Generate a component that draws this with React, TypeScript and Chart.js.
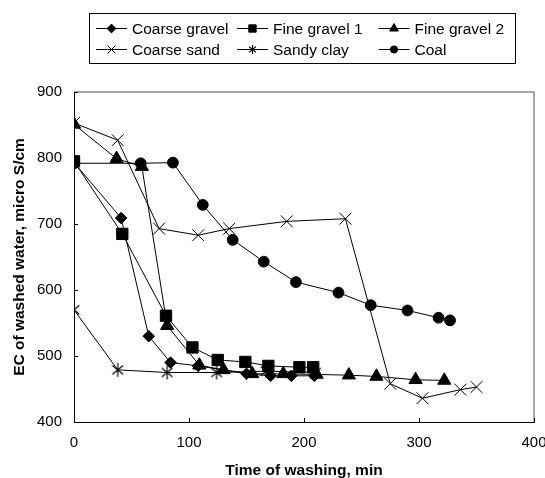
import React, { useEffect, useRef } from 'react';
import { Chart, registerables } from 'chart.js';
import { drawPoint } from 'chart.js/helpers';

Chart.register(...registerables);

// ---- Data ----
const seriesNames = ['Coarse gravel', 'Fine gravel 1', 'Fine gravel 2', 'Coarse sand', 'Sandy clay', 'Coal'];

const coarseGravelX = [0, 41, 65, 84, 108, 150, 171, 189, 209];
const coarseGravelY = [793, 709, 530, 490, 485, 473, 470, 470, 470];

const fineGravel1X = [0, 42, 80, 103, 125, 149, 169, 196, 208];
const fineGravel1Y = [795, 685, 561, 513, 494, 491, 485, 483, 483];

const fineGravel2X = [0, 37, 59, 81, 109, 130, 155, 182, 211, 239, 263, 297, 322];
const fineGravel2Y = [851, 799, 787, 546, 486, 479, 473, 473, 472, 471, 469, 464, 463];

const coarseSandX = [0, 38, 74, 108, 135, 185, 236, 275, 303, 336, 350];
const coarseSandY = [853, 827, 693, 683, 693, 704, 708, 458, 436, 449, 453];

const sandyClayX = [0, 38, 81, 124, 167, 210];
const sandyClayY = [570, 479, 475, 475, 477, 475];

const coalX = [0, 58, 86, 112, 138, 165, 193, 230, 258, 290, 317, 327];
const coalY = [792, 792, 793, 729, 676, 643, 612, 596, 577, 569, 558, 554];

const xTicks = [0, 100, 200, 300, 400];
const yTicks = [400, 500, 600, 700, 800, 900];

const xTitle = 'Time of washing, min';
const yTitle = 'EC of washed water, micro S/cm';

const FONT = "'Liberation Sans', Arial, sans-serif";

function zip(xs: number[], ys: number[]) {
  return xs.map((x, i) => ({ x, y: ys[i] }));
}

function makeAsterisk(r: number): HTMLCanvasElement {
  const c = document.createElement('canvas');
  const s = Math.ceil(2 * r + 2);
  c.width = s;
  c.height = s;
  const g = c.getContext('2d')!;
  const m = s / 2;
  g.strokeStyle = '#000';
  g.lineWidth = 1.2;
  g.beginPath();
  g.moveTo(m, m - r);
  g.lineTo(m, m + r);
  const a = (40 * Math.PI) / 180;
  g.moveTo(m - r * Math.cos(a), m - r * Math.sin(a));
  g.lineTo(m + r * Math.cos(a), m + r * Math.sin(a));
  g.moveTo(m - r * Math.cos(a), m + r * Math.sin(a));
  g.lineTo(m + r * Math.cos(a), m - r * Math.sin(a));
  g.stroke();
  return c;
}

export default function App() {
  const ref = useRef<HTMLCanvasElement>(null);

  useEffect(() => {
    if (!ref.current) return;
    const asteriskBig = makeAsterisk(7);
    const asteriskSmall = makeAsterisk(4.5);

    const styles: any[] = [
      { pointStyle: 'rectRot', radius: 5.8, legendStyle: 'rectRot', legendRadius: 4.4 },
      { pointStyle: 'rect', radius: 8, legendStyle: 'rect', legendRadius: 5.2 },
      { pointStyle: 'triangle', radius: 7.6, legendStyle: 'triangle', legendRadius: 5 },
      { pointStyle: 'crossRot', radius: 8.4, legendStyle: 'crossRot', legendRadius: 5.5 },
      { pointStyle: asteriskBig, radius: 7, legendStyle: asteriskSmall, legendRadius: 4.5 },
      { pointStyle: 'circle', radius: 5.4, legendStyle: 'circle', legendRadius: 3.6 },
    ];
    const seriesData = [
      zip(coarseGravelX, coarseGravelY),
      zip(fineGravel1X, fineGravel1Y),
      zip(fineGravel2X, fineGravel2Y),
      zip(coarseSandX, coarseSandY),
      zip(sandyClayX, sandyClayY),
      zip(coalX, coalY),
    ];

    const datasets = seriesNames.map((name, i) => ({
      label: name,
      data: seriesData[i],
      borderColor: '#000',
      backgroundColor: '#000',
      borderWidth: 1,
      pointStyle: styles[i].pointStyle,
      pointRadius: styles[i].radius,
      pointHoverRadius: styles[i].radius,
      pointBorderWidth: 1,
      pointBackgroundColor: '#000',
      pointBorderColor: '#000',
      tension: 0,
      fill: false,
      legendStyle: styles[i].legendStyle,
      legendRadius: styles[i].legendRadius,
    }));

    const framePlugin = {
      id: 'frameTicks',
      beforeDatasetsDraw(chart: any) {
        const { ctx, chartArea, scales } = chart;
        ctx.save();
        ctx.strokeStyle = '#8a8a8a';
        ctx.lineWidth = 1.5;
        ctx.beginPath();
        ctx.moveTo(chartArea.left, chartArea.top);
        ctx.lineTo(chartArea.right, chartArea.top);
        ctx.lineTo(chartArea.right, chartArea.bottom);
        ctx.stroke();
        ctx.strokeStyle = '#000';
        ctx.lineWidth = 1;
        ctx.beginPath();
        xTicks.forEach((v) => {
          const px = Math.round(scales.x.getPixelForValue(v)) + 0.5;
          ctx.moveTo(px, chartArea.bottom);
          ctx.lineTo(px, chartArea.bottom - 4);
        });
        yTicks.forEach((v) => {
          const py = Math.round(scales.y.getPixelForValue(v)) + 0.5;
          ctx.moveTo(chartArea.left, py);
          ctx.lineTo(chartArea.left + 4, py);
        });
        ctx.stroke();
        ctx.restore();
      },
    };

    const legendPlugin = {
      id: 'boxLegend',
      afterDraw(chart: any) {
        const ctx = chart.ctx;
        ctx.save();
        ctx.strokeStyle = '#000';
        ctx.lineWidth = 1;
        ctx.strokeRect(89.5, 13.5, 426, 50);
        const cols = [96, 237, 378.5];
        const rows = [28.5, 49.5];
        ctx.font = `15.5px ${FONT}`;
        ctx.textBaseline = 'middle';
        ctx.textAlign = 'left';
        chart.data.datasets.forEach((ds: any, i: number) => {
          const x0 = cols[i % 3];
          const y = rows[Math.floor(i / 3)];
          ctx.strokeStyle = '#000';
          ctx.fillStyle = '#000';
          ctx.lineWidth = 1;
          ctx.beginPath();
          ctx.moveTo(x0, y);
          ctx.lineTo(x0 + 31, y);
          ctx.stroke();
          drawPoint(ctx, { pointStyle: ds.legendStyle, radius: ds.legendRadius, borderWidth: 1, rotation: 0 } as any, x0 + 15.5, y);
          ctx.fillStyle = '#000';
          ctx.fillText(ds.label, x0 + 36, y + 1);
        });
        ctx.restore();
      },
    };

    const chart = new Chart(ref.current, {
      type: 'line',
      data: { datasets: datasets as any },
      plugins: [framePlugin, legendPlugin],
      options: {
        animation: false,
        responsive: false,
        maintainAspectRatio: false,
        layout: { padding: { top: 92, right: 11, left: 0, bottom: 0 } },
        plugins: {
          legend: { display: false },
          tooltip: { enabled: false },
        },
        scales: {
          x: {
            type: 'linear',
            min: 0,
            max: 400,
            afterBuildTicks: (s: any) => {
              s.ticks = xTicks.map((v) => ({ value: v }));
            },
            afterFit: (s: any) => {
              s.height = 56;
              s.paddingLeft = 0;
              s.paddingRight = 0;
            },
            grid: { display: false, drawTicks: false },
            border: { display: true, color: '#000', width: 1 },
            ticks: {
              color: '#000',
              padding: 12,
              maxRotation: 0,
              font: { family: FONT, size: 15 },
            },
            title: {
              display: true,
              text: xTitle,
              color: '#000',
              font: { family: FONT, size: 15.5, weight: 'bold', lineHeight: 1 },
              padding: { top: 0, bottom: 0 },
            },
          },
          y: {
            type: 'linear',
            min: 400,
            max: 900,
            afterBuildTicks: (s: any) => {
              s.ticks = yTicks.map((v) => ({ value: v }));
            },
            afterFit: (s: any) => {
              s.width = 74;
            },
            grid: { display: false, drawTicks: false },
            border: { display: true, color: '#000', width: 1 },
            ticks: {
              color: '#000',
              padding: 12,
              font: { family: FONT, size: 15 },
            },
            title: {
              display: true,
              text: yTitle,
              color: '#000',
              font: { family: FONT, size: 15.5, weight: 'bold', lineHeight: 1 },
              padding: { top: 12, bottom: 0 },
            },
          },
        },
      } as any,
    });
    return () => chart.destroy();
  }, []);

  return (
    <div style={{ position: 'absolute', left: 0, top: 0, width: 545, height: 478, background: '#fff' }}>
      <canvas ref={ref} width={545} height={478} style={{ width: 545, height: 478, display: 'block' }} />
    </div>
  );
}
